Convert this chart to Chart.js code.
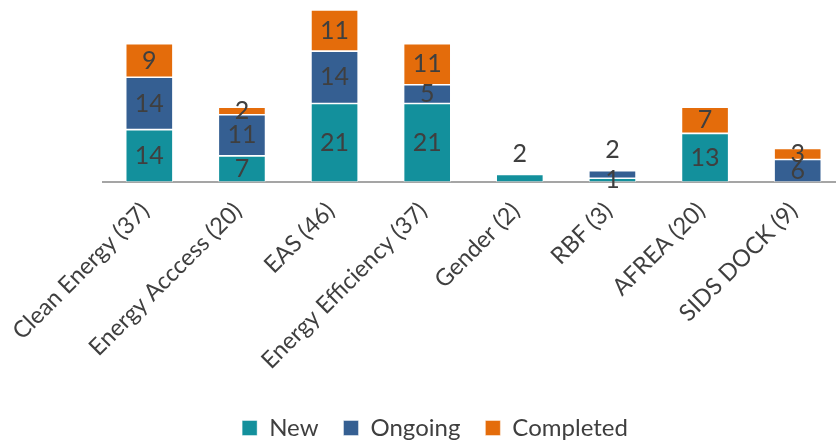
<!DOCTYPE html>
<html>
<head>
<meta charset="utf-8">
<script src="https://cdn.jsdelivr.net/npm/chart.js@4/dist/chart.umd.min.js"></script>
<style>
  html, body { margin: 0; padding: 0; overflow: hidden; background: #fff; }
  #wrap { width: 844px; height: 442px; position: relative; }
</style>
</head>
<body>
<div id="wrap"><canvas id="chart"></canvas></div>
<script>
// Programmes and their project counts by status
const categories = ['Clean Energy (37)', 'Energy Acccess (20)', 'EAS (46)', 'Energy Efficiency (37)',
                    'Gender (2)', 'RBF (3)', 'AFREA (20)', 'SIDS DOCK (9)'];
const newProjects       = [14, 7, 21, 21, 2, 1, 13, null];
const ongoingProjects   = [14, 11, 14, 5, null, 2, null, 6];
const completedProjects = [9, 2, 11, 11, null, null, 7, 3];

const textColor = '#3F3F3F';
const fontFamily = 'Lato, "Open Sans", sans-serif';

// Value labels drawn at the middle of each segment; a few tiny segments get theirs above the bar
const segmentLabels = {
  id: 'segmentLabels',
  afterDatasetsDraw(chart, args, opts) {
    const ctx = chart.ctx;
    ctx.save();
    ctx.font = `${opts.size}px ${fontFamily}`;
    ctx.fillStyle = textColor;
    ctx.textAlign = 'center';
    ctx.textBaseline = 'middle';
    chart.data.datasets.forEach((ds, di) => {
      const meta = chart.getDatasetMeta(di);
      if (meta.hidden) return;
      meta.data.forEach((bar, i) => {
        const v = ds.data[i];
        if (v === null || v === undefined || v === 0) return;
        const top = Math.min(bar.y, bar.base);
        const bottom = Math.max(bar.y, bar.base);
        const above = opts.outsideEnd.some(([s, c]) => s === ds.label && c === categories[i]);
        const y = above ? top - opts.outsideOffset : (top + bottom) / 2;
        ctx.fillText(String(v), bar.x, y);
      });
    });
    ctx.restore();
  }
};

new Chart(document.getElementById('chart'), {
  type: 'bar',
  data: {
    labels: categories,
    datasets: [
      { label: 'New', data: newProjects, backgroundColor: '#13909C' },
      { label: 'Ongoing', data: ongoingProjects, backgroundColor: '#355F92' },
      { label: 'Completed', data: completedProjects, backgroundColor: '#E46C0B' }
    ]
  },
  options: {
    responsive: true,
    maintainAspectRatio: false,
    animation: false,
    categoryPercentage: 1,
    barPercentage: 0.51,
    layout: { padding: { left: 26, top: 10, right: 0, bottom: -8 } },
    datasets: { bar: { borderWidth: 0.8, borderColor: 'rgba(255,255,255,0.55)', borderSkipped: false } },
    scales: {
      x: {
        stacked: true,
        grid: { display: false, drawTicks: false },
        border: { display: true, color: '#A5A5A5', width: 2 },
        ticks: {
          color: textColor,
          font: { family: fontFamily, size: 23.5 },
          minRotation: 45,
          maxRotation: 45,
          padding: 15,
          labelOffset: -4,
          autoSkip: false
        },
        afterFit(scale) {
          scale.height = 209;
          scale.paddingLeft = 103;
        }
      },
      y: {
        stacked: true,
        display: false,
        min: 0,
        max: 46
      }
    },
    plugins: {
      legend: {
        position: 'bottom',
        labels: {
          color: textColor,
          font: { family: fontFamily, size: 24 },
          boxWidth: 15,
          boxHeight: 15,
          padding: 25
        }
      },
      tooltip: { enabled: false },
      segmentLabels: {
        size: 25,
        outsideEnd: [['New', 'Gender (2)'], ['Ongoing', 'RBF (3)']],
        outsideOffset: 21
      }
    }
  },
  plugins: [segmentLabels]
});
</script>
</body>
</html>
